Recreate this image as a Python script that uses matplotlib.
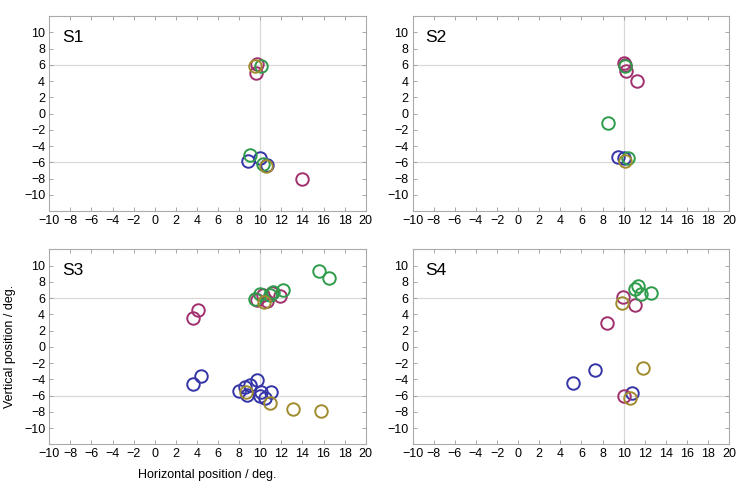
import matplotlib
matplotlib.use('Agg')
import matplotlib.pyplot as plt
from matplotlib.ticker import FuncFormatter

plt.rcParams['font.family'] = ['Liberation Sans', 'DejaVu Sans']

BLUE = '#3535a8'
MAGENTA = '#a0306e'
GREEN = '#2e9c4a'
OLIVE = '#a08c2e'

# fixation positions (deg) per subject and condition colour
s1_blue_x = [8.8, 10.0, 10.65]
s1_blue_y = [-5.8, -5.5, -6.35]
s1_magenta_x = [9.7, 9.6, 14.0]
s1_magenta_y = [6.1, 5.0, -8.05]
s1_green_x = [10.1, 9.05, 10.3]
s1_green_y = [5.85, -5.1, -6.2]
s1_olive_x = [9.5, 10.5]
s1_olive_y = [5.9, -6.5]

s2_blue_x = [9.5, 10.0]
s2_blue_y = [-5.4, -5.5]
s2_magenta_x = [10.0, 10.1, 10.2, 11.3]
s2_magenta_y = [6.2, 6.0, 5.2, 3.95]
s2_green_x = [10.1, 8.5, 10.45]
s2_green_y = [5.85, -1.2, -5.5]
s2_olive_x = [10.15]
s2_olive_y = [-5.9]

s3_blue_x = [3.6, 4.4, 8.0, 8.55, 9.0, 9.7, 8.7, 10.1, 9.95, 10.45, 11.05]
s3_blue_y = [-4.6, -3.65, -5.4, -5.0, -4.7, -4.05, -5.95, -5.5, -6.1, -6.3, -5.6]
s3_magenta_x = [3.6, 4.1, 9.65, 10.3, 10.6, 11.1, 11.9]
s3_magenta_y = [3.55, 4.5, 5.8, 6.4, 5.7, 6.6, 6.2]
s3_green_x = [9.5, 10.0, 10.9, 11.2, 12.2, 15.6, 16.5]
s3_green_y = [5.85, 6.5, 6.4, 6.8, 7.0, 9.35, 8.45]
s3_olive_x = [10.4, 8.65, 10.95, 13.1, 15.8]
s3_olive_y = [5.55, -5.55, -6.9, -7.6, -7.95]

s4_blue_x = [5.2, 7.3, 10.75]
s4_blue_y = [-4.4, -2.85, -5.65]
s4_magenta_x = [9.9, 11.1, 8.45, 10.05]
s4_magenta_y = [6.15, 5.1, 2.95, -6.05]
s4_green_x = [11.4, 11.1, 11.65, 12.55]
s4_green_y = [7.5, 7.1, 6.45, 6.6]
s4_olive_x = [9.85, 11.8, 10.6]
s4_olive_y = [5.45, -2.6, -6.3]

subjects = ['S1', 'S2', 'S3', 'S4']
data = {
    'S1': [(s1_blue_x, s1_blue_y, BLUE), (s1_magenta_x, s1_magenta_y, MAGENTA),
           (s1_green_x, s1_green_y, GREEN), (s1_olive_x, s1_olive_y, OLIVE)],
    'S2': [(s2_blue_x, s2_blue_y, BLUE), (s2_magenta_x, s2_magenta_y, MAGENTA),
           (s2_green_x, s2_green_y, GREEN), (s2_olive_x, s2_olive_y, OLIVE)],
    'S3': [(s3_blue_x, s3_blue_y, BLUE), (s3_magenta_x, s3_magenta_y, MAGENTA),
           (s3_green_x, s3_green_y, GREEN), (s3_olive_x, s3_olive_y, OLIVE)],
    'S4': [(s4_blue_x, s4_blue_y, BLUE), (s4_magenta_x, s4_magenta_y, MAGENTA),
           (s4_green_x, s4_green_y, GREEN), (s4_olive_x, s4_olive_y, OLIVE)],
}

xticks = list(range(-10, 21, 2))
yticks = list(range(-10, 11, 2))


def fmt(v, pos):
    v = int(round(v))
    return ('\u2212' + str(-v)) if v < 0 else str(v)


fig = plt.figure(figsize=(7.37, 4.83), dpi=100)
w, h = 0.4293, 0.4037
rects = {'S1': [0.0669, 0.5631, w, h], 'S2': [0.560, 0.5631, w, h],
         'S3': [0.0669, 0.0801, w, h], 'S4': [0.560, 0.0801, w, h]}

for s in subjects:
    ax = fig.add_axes(rects[s])
    ax.set_xlim(-10, 20)
    ax.set_ylim(-12, 12)
    ax.axvline(10, color='#d8d8d8', lw=0.9, zorder=0)
    ax.axhline(6, color='#d8d8d8', lw=0.9, zorder=0)
    ax.axhline(-6, color='#d8d8d8', lw=0.9, zorder=0)
    for xs, ys, c in data[s]:
        ax.plot(xs, ys, 'o', mfc='none', mec=c, ms=9, mew=1.4, ls='none')
    ax.set_xticks(xticks)
    ax.set_yticks(yticks)
    ax.xaxis.set_major_formatter(FuncFormatter(fmt))
    ax.yaxis.set_major_formatter(FuncFormatter(fmt))
    ax.tick_params(direction='in', length=3, width=0.6, color='#999999',
                   top=True, right=True, labelsize=9, pad=3)
    for sp in ax.spines.values():
        sp.set_color('#aaaaaa')
        sp.set_linewidth(0.8)
    ax.text(0.04, 0.93, s, transform=ax.transAxes, fontsize=12.5,
            ha='left', va='top')
    if s == 'S3':
        ax.set_xlabel('Horizontal position / deg.', fontsize=9, labelpad=6)
        ax.set_ylabel('Vertical position / deg.', fontsize=9, labelpad=6)

fig.savefig('out.png', dpi=100)
